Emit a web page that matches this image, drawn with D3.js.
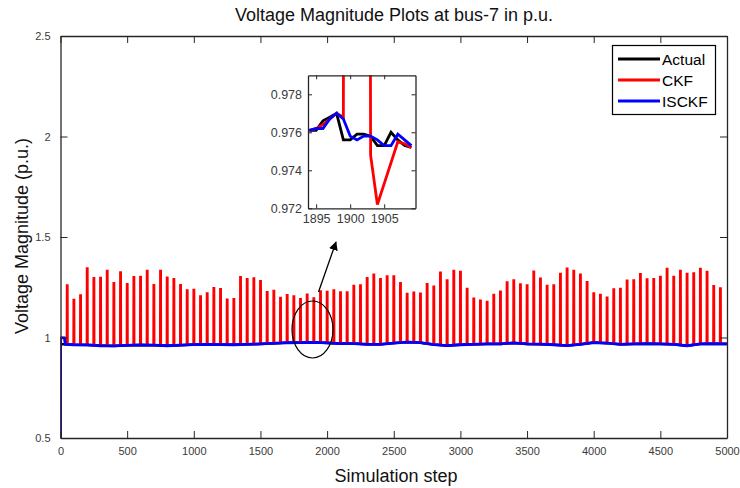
<!DOCTYPE html>
<html>
<head>
<meta charset="utf-8">
<script src="https://cdn.jsdelivr.net/npm/d3@7"></script>
<style>
  html, body { margin: 0; padding: 0; background: #fff; }
  svg { display: block; font-family: "Liberation Sans", Arial, Helvetica, sans-serif; }
</style>
</head>
<body>
<svg id="chart" width="740" height="488"></svg>
<script>
// ---------------- DATA ----------------
const titleText = "Voltage Magnitude Plots at bus-7 in p.u.";
const xLabelText = "Simulation step";
const yLabelText = "Voltage Magnitude (p.u.)";
const seriesNames = ["Actual", "CKF", "ISCKF"];
const seriesColors = ["#000000", "#ff0000", "#0000ff"];

const xTickValues = [0, 500, 1000, 1500, 2000, 2500, 3000, 3500, 4000, 4500, 5000];
const yTickValues = [0.5, 1, 1.5, 2, 2.5];

// baseline (sampled) steps and values
const baseSteps = [0, 1, 30, 36, 100, 200, 300, 400, 500, 600, 700, 800, 900, 1000,
  1100, 1200, 1300, 1400, 1500, 1600, 1700, 1800, 1900, 2000, 2100, 2200, 2300, 2400,
  2500, 2600, 2700, 2800, 2900, 3000, 3100, 3200, 3300, 3400, 3500, 3600, 3700, 3800,
  3900, 4000, 4100, 4200, 4300, 4400, 4500, 4600, 4700, 4800, 4900, 5000];
const isckfBase = [0.5, 0.998, 0.998, 0.966, 0.964, 0.963, 0.959, 0.958, 0.961, 0.963,
  0.962, 0.959, 0.962, 0.965, 0.966, 0.965, 0.964, 0.966, 0.968, 0.971, 0.974, 0.975,
  0.976, 0.973, 0.970, 0.970, 0.966, 0.966, 0.972, 0.977, 0.974, 0.965, 0.960, 0.964,
  0.966, 0.968, 0.968, 0.973, 0.968, 0.967, 0.964, 0.960, 0.966, 0.975, 0.972, 0.966,
  0.968, 0.969, 0.968, 0.966, 0.959, 0.968, 0.969, 0.968];
const actualBase = [0.966, 0.966, 0.966, 0.966, 0.964, 0.963, 0.960, 0.958, 0.961, 0.963,
  0.962, 0.959, 0.962, 0.965, 0.966, 0.965, 0.964, 0.966, 0.968, 0.971, 0.974, 0.975,
  0.976, 0.973, 0.970, 0.970, 0.966, 0.966, 0.972, 0.977, 0.974, 0.965, 0.960, 0.964,
  0.966, 0.968, 0.968, 0.973, 0.968, 0.967, 0.964, 0.960, 0.966, 0.975, 0.972, 0.966,
  0.968, 0.969, 0.968, 0.966, 0.959, 0.968, 0.969, 0.968];

// CKF spike peaks, one every 50 steps (50 ... 4950)
const ckfSpikeSteps = d3.range(50, 5000, 50);
const ckfSpikePeaks = [1.26, 1.193, 1.21, 1.35, 1.296, 1.302, 1.332, 1.276, 1.324, 1.271,
  1.30, 1.307, 1.332, 1.266, 1.332, 1.304, 1.29, 1.266, 1.235, 1.243,
  1.205, 1.225, 1.246, 1.246, 1.188, 1.197, 1.30, 1.296, 1.294, 1.286,
  1.226, 1.238, 1.197, 1.216, 1.205, 1.197, 1.213, 1.20, 1.23, 1.233,
  1.235, 1.23, 1.225, 1.263, 1.26, 1.301, 1.313, 1.296, 1.304, 1.31,
  1.271, 1.223, 1.224, 1.224, 1.266, 1.259, 1.323, 1.29, 1.332, 1.332,
  1.242, 1.199, 1.183, 1.183, 1.212, 1.234, 1.275, 1.29, 1.265, 1.265,
  1.328, 1.298, 1.257, 1.265, 1.317, 1.348, 1.332, 1.318, 1.276, 1.225,
  1.212, 1.204, 1.24, 1.248, 1.283, 1.29, 1.316, 1.295, 1.29, 1.307,
  1.341, 1.307, 1.332, 1.322, 1.319, 1.347, 1.327, 1.261, 1.245];

// Inset (zoom around step 1900)
const insetSteps = [1894, 1895, 1896, 1897, 1898, 1899, 1900, 1901, 1902, 1903, 1904, 1905, 1906, 1907, 1908, 1909];
const insetActual = [0.9761, 0.9761, 0.9766, 0.9768, 0.9770, 0.9756, 0.9756, 0.9759, 0.9759, 0.9758, 0.9753, 0.9753, 0.9760, 0.9756, 0.9753, 0.9752];
const insetCKF    = [0.9761, 0.9762, 0.9764, 0.9767, 0.9770, 0.9768, 1.2000, 1.2000, 1.2000, 0.9748, 0.9722, 0.9733, 0.9744, 0.9755, 0.9754, 0.9752];
const insetISCKF  = [0.9761, 0.9762, 0.9762, 0.9767, 0.9770, 0.9767, 0.9758, 0.9756, 0.9758, 0.9758, 0.9756, 0.9753, 0.9753, 0.9759, 0.9756, 0.9753];
const insetXTicks = [1895, 1900, 1905];
const insetYTicks = [0.972, 0.974, 0.976, 0.978];

// ---------------- DRAW ----------------
(function () {
const svg = d3.select("#chart");
const pL = 60.5, pR = 727, pT = 36, pB = 438;

const x = d3.scaleLinear().domain([0, 5000]).range([pL, pR]);
const y = d3.scaleLinear().domain([0.5, 2.5]).range([pB, pT]);

const axisColor = "#262626";
const tickLen = 7;
const defs = svg.append("defs");

defs.append("clipPath").attr("id", "plotclip")
  .append("rect").attr("x", pL).attr("y", pT).attr("width", pR - pL).attr("height", pB - pT);

// Series
const line = d3.line().x(d => x(d[0])).y(d => y(d[1]));
const baseInterp = d3.scaleLinear().domain(baseSteps).range(isckfBase);

const actualPts = baseSteps.map((s, i) => [s, actualBase[i]]);
const isckfPts = baseSteps.map((s, i) => [s, isckfBase[i]]);
let ckfPts = baseSteps.map((s, i) => [s, isckfBase[i]]);
ckfSpikeSteps.forEach((s, i) => {
  const b = baseInterp(s);
  const h = ckfSpikePeaks[i];
  ckfPts.push([s - 3, b], [s - 2, h], [s + 3, h], [s + 4, b]);
});
ckfPts.sort((a, b) => a[0] - b[0]);

const plot = svg.append("g").attr("clip-path", "url(#plotclip)");
plot.append("path").datum(actualPts).attr("d", line)
  .attr("fill", "none").attr("stroke", seriesColors[0]).attr("stroke-width", 2.5);
plot.append("path").datum(ckfPts).attr("d", line)
  .attr("fill", "none").attr("stroke", seriesColors[1]).attr("stroke-width", 2.2)
  .attr("stroke-linejoin", "miter");
plot.append("path").datum(isckfPts).attr("d", line)
  .attr("fill", "none").attr("stroke", seriesColors[2]).attr("stroke-width", 2.8)
  .attr("stroke-linejoin", "round");

// Axes (box with inward ticks on all sides)
const gx = svg.append("g").attr("transform", `translate(0,${pB})`)
  .call(d3.axisBottom(x).tickValues(xTickValues).tickSizeInner(-tickLen).tickSizeOuter(0).tickPadding(9).tickFormat(d3.format("d")));
const gxTop = svg.append("g").attr("transform", `translate(0,${pT})`)
  .call(d3.axisTop(x).tickValues(xTickValues).tickSizeInner(-tickLen).tickSizeOuter(0).tickFormat(""));
const gy = svg.append("g").attr("transform", `translate(${pL},0)`)
  .call(d3.axisLeft(y).tickValues(yTickValues).tickSizeInner(-tickLen).tickSizeOuter(0).tickPadding(10).tickFormat(d3.format("")));
const gyR = svg.append("g").attr("transform", `translate(${pR},0)`)
  .call(d3.axisRight(y).tickValues(yTickValues).tickSizeInner(-tickLen).tickSizeOuter(0).tickFormat(""));

[gx, gxTop, gy, gyR].forEach(g => {
  g.select(".domain").attr("stroke", axisColor).attr("stroke-width", 1.3);
  g.selectAll(".tick line").attr("stroke", axisColor).attr("stroke-width", 1);
  g.selectAll(".tick text").attr("fill", "#3a3a3a").attr("font-size", 11)
    .attr("font-family", "Liberation Sans, Arial, sans-serif");
});

// Titles
svg.append("text").attr("x", 394).attr("y", 21).attr("text-anchor", "middle")
  .attr("font-size", 18).attr("fill", "#111").text(titleText);
svg.append("text").attr("x", 396).attr("y", 482).attr("text-anchor", "middle")
  .attr("font-size", 18).attr("fill", "#111").text(xLabelText);
svg.append("text").attr("transform", "translate(28,236) rotate(-90)").attr("text-anchor", "middle")
  .attr("font-size", 18).attr("fill", "#111").text(yLabelText);

// Legend
const lg = svg.append("g");
lg.append("rect").attr("x", 612.5).attr("y", 45.5).attr("width", 103).attr("height", 69)
  .attr("fill", "#fff").attr("stroke", "#000").attr("stroke-width", 1.2);
seriesNames.forEach((n, i) => {
  const yy = 59 + i * 21;
  lg.append("line").attr("x1", 618).attr("x2", 660).attr("y1", yy).attr("y2", yy)
    .attr("stroke", seriesColors[i]).attr("stroke-width", 2.8);
  lg.append("text").attr("x", 662).attr("y", yy + 5.5).attr("font-size", 15.5).attr("fill", "#000").text(n);
});

// Ellipse and arrow
svg.append("ellipse").attr("cx", 312.5).attr("cy", 329.5).attr("rx", 20.5).attr("ry", 28.5)
  .attr("fill", "none").attr("stroke", "#000").attr("stroke-width", 1.2);
defs.append("marker").attr("id", "arrowhead")
  .attr("viewBox", "0 0 10 10").attr("refX", 9).attr("refY", 5)
  .attr("markerWidth", 9).attr("markerHeight", 9).attr("markerUnits", "userSpaceOnUse")
  .attr("orient", "auto")
  .append("path").attr("d", "M0,0 L10,5 L0,10 z").attr("fill", "#000");
svg.append("line").attr("x1", 318.5).attr("y1", 292).attr("x2", 336).attr("y2", 242)
  .attr("stroke", "#000").attr("stroke-width", 1.3).attr("marker-end", "url(#arrowhead)");

// Inset
const ix = d3.scaleLinear().domain([1893.8, 1909.6]).range([308, 415.5]);
const iy = d3.scaleLinear().domain([0.972, 0.979]).range([208.3, 75.3]);
const [il, ir] = ix.range();
const [ib, it] = iy.range();
svg.append("rect").attr("x", il).attr("y", it).attr("width", ir - il).attr("height", ib - it).attr("fill", "#fff");
defs.append("clipPath").attr("id", "insetclip")
  .append("rect").attr("x", il).attr("y", it).attr("width", ir - il).attr("height", ib - it);
const iline = d3.line().x(d => ix(d[0])).y(d => iy(d[1]));
const ig = svg.append("g").attr("clip-path", "url(#insetclip)");
[insetActual, insetCKF, insetISCKF].forEach((vals, i) => {
  ig.append("path").datum(insetSteps.map((s, j) => [s, vals[j]])).attr("d", iline)
    .attr("fill", "none").attr("stroke", seriesColors[i]).attr("stroke-width", 2.8)
    .attr("stroke-linejoin", "miter");
});
const igx = svg.append("g").attr("transform", `translate(0,${ib})`)
  .call(d3.axisBottom(ix).tickValues(insetXTicks).tickSizeInner(-4).tickSizeOuter(0).tickPadding(6).tickFormat(d3.format("d")));
const igxT = svg.append("g").attr("transform", `translate(0,${it})`)
  .call(d3.axisTop(ix).tickValues(insetXTicks).tickSizeInner(-4).tickSizeOuter(0).tickFormat(""));
const igy = svg.append("g").attr("transform", `translate(${il},0)`)
  .call(d3.axisLeft(iy).tickValues(insetYTicks).tickSizeInner(-4).tickSizeOuter(0).tickPadding(6).tickFormat(d3.format(".3f")));
const igyR = svg.append("g").attr("transform", `translate(${ir},0)`)
  .call(d3.axisRight(iy).tickValues(insetYTicks).tickSizeInner(-4).tickSizeOuter(0).tickFormat(""));
[igx, igxT, igy, igyR].forEach(g => {
  g.select(".domain").attr("stroke", axisColor).attr("stroke-width", 1.3);
  g.selectAll(".tick line").attr("stroke", axisColor);
  g.selectAll(".tick text").attr("fill", "#3a3a3a").attr("font-size", 12.5)
    .attr("font-family", "Liberation Sans, Arial, sans-serif");
});
})();
</script>
</body>
</html>
